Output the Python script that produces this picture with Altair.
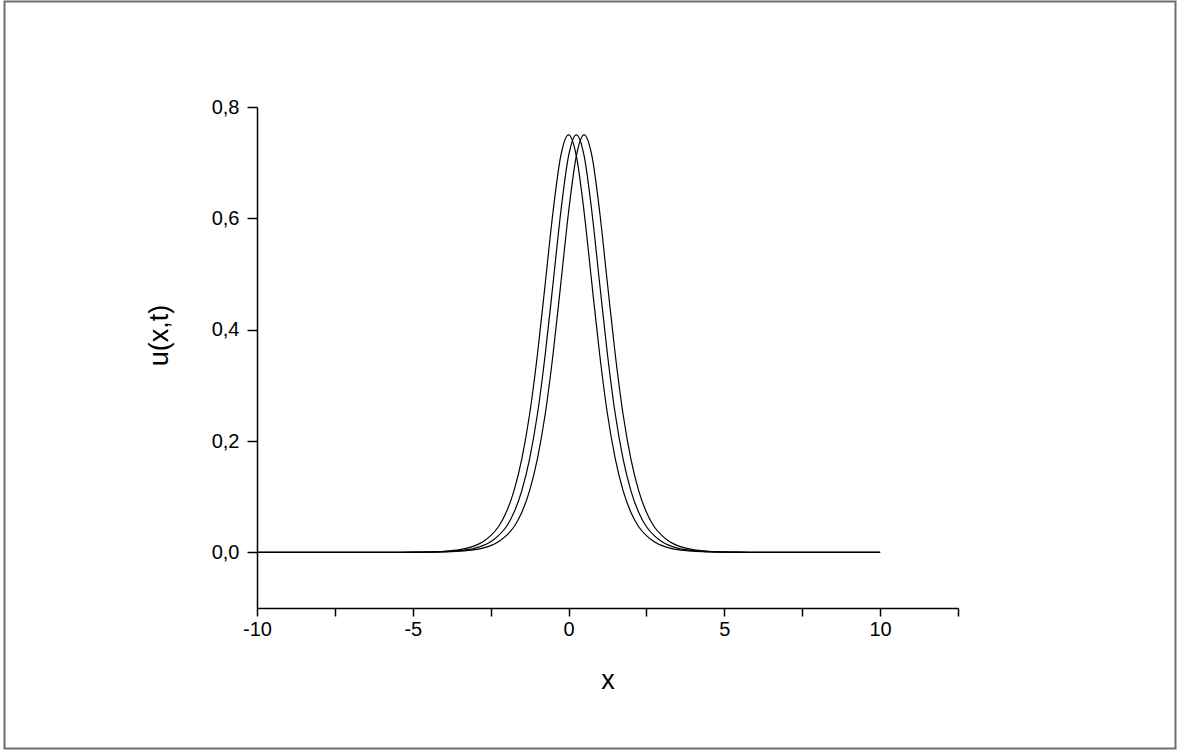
import altair as alt
import pandas as pd

# x positions (shared grid) and u(x,t) values for the three profiles
x_grid = [-10, -6, -5, -4.5, -4, -3.5, -3, -2.75, -2.5, -2.25, -2, -1.75, -1.5, -1.25, -1,
          -0.75, -0.5, -0.25, 0, 0.25, 0.5, 0.75, 1, 1.25, 1.5, 1.75, 2, 2.25, 2.5, 2.75,
          3, 3.25, 3.5, 4, 4.5, 5, 5.5, 6, 10]

u_t0 = [0, 0.00005, 0.0003, 0.0008, 0.0019, 0.0048, 0.012, 0.019, 0.030, 0.046, 0.072, 0.111,
        0.168, 0.248, 0.355, 0.482, 0.611, 0.712, 0.750, 0.712, 0.611, 0.482, 0.355, 0.248,
        0.168, 0.111, 0.072, 0.046, 0.030, 0.019, 0.012, 0.0075, 0.0048, 0.0019, 0.0008,
        0.0003, 0.0001, 0.00005, 0]

u_t1 = [0, 0.00003, 0.0002, 0.0005, 0.0012, 0.0030, 0.0075, 0.012, 0.019, 0.030, 0.046, 0.072,
        0.111, 0.168, 0.248, 0.355, 0.482, 0.611, 0.712, 0.750, 0.712, 0.611, 0.482, 0.355,
        0.248, 0.168, 0.111, 0.072, 0.046, 0.030, 0.019, 0.012, 0.0075, 0.0030, 0.0012,
        0.0005, 0.0002, 0.00008, 0]

u_t2 = [0, 0.00002, 0.0001, 0.0003, 0.0008, 0.0019, 0.0048, 0.0075, 0.012, 0.019, 0.030, 0.046,
        0.072, 0.111, 0.168, 0.248, 0.355, 0.482, 0.611, 0.712, 0.750, 0.712, 0.611, 0.482,
        0.355, 0.248, 0.168, 0.111, 0.072, 0.046, 0.030, 0.019, 0.012, 0.0048, 0.0019,
        0.0008, 0.0003, 0.0001, 0]

series_names = ["t1", "t2", "t3"]

x_tick_values = [-10, -7.5, -5, -2.5, 0, 2.5, 5, 7.5, 10, 12.5]
y_tick_values = [0.0, 0.2, 0.4, 0.6, 0.8]

rows = []
for name, ys in zip(series_names, [u_t0, u_t1, u_t2]):
    for xv, yv in zip(x_grid, ys):
        rows.append({"x": xv, "u": yv, "s": name})
df = pd.DataFrame(rows)

FONT = "Liberation Sans"

x_axis = alt.Axis(
    values=x_tick_values,
    labelExpr="datum.value % 5 == 0 ? '' + datum.value : ''",
    grid=False, tickSize=8, tickWidth=1.5, domainWidth=1.5,
    domainColor="black", tickColor="black", labelColor="black",
    labelFont=FONT, labelFontSize=20, labelPadding=3, labelFlush=False,
    title="x", titleFont=FONT, titleFontSize=27, titleFontWeight="normal",
    titleColor="black", titleBaseline="alphabetic", titleY=80,
)
y_axis = alt.Axis(
    values=y_tick_values,
    labelExpr="replace(format(datum.value, '.1f'), '.', ',')",
    grid=False, tickSize=10, tickWidth=1.5, domainWidth=1.5,
    domainColor="black", tickColor="black", labelColor="black",
    labelFont=FONT, labelFontSize=20, labelPadding=8, labelFlush=False,
    title="u(x,t)", titleFont=FONT, titleFontSize=27, titleFontWeight="normal",
    titleColor="black", titleX=-90, titleY=228, titleAngle=270,
    titleBaseline="alphabetic", titleAlign="center",
)

lines = alt.Chart(df).mark_line(color="black", strokeWidth=1.2, interpolate="monotone").encode(
    x=alt.X("x:Q", scale=alt.Scale(domain=[-10, 12.5], nice=False, zero=False), axis=x_axis),
    y=alt.Y("u:Q", scale=alt.Scale(domain=[-0.1, 0.8], nice=False, zero=False), axis=y_axis),
    detail="s:N",
)

frame = alt.Chart(pd.DataFrame({"k": [0]})).mark_rect(
    fill=None, stroke="#6e6e6e", strokeWidth=2, clip=False
).encode(
    x=alt.value(-252.5), x2=alt.value(918.5),
    y=alt.value(-105.5), y2=alt.value(641.5),
)

chart = alt.layer(frame, lines).properties(
    width=701, height=501,
    autosize=alt.AutoSizeParams(type="none"),
    padding={"left": 257, "top": 107, "right": 234, "bottom": 143},
    background="white",
).configure_view(stroke=None)

chart.save("out.html", embed_options={"renderer": "svg", "actions": False})
